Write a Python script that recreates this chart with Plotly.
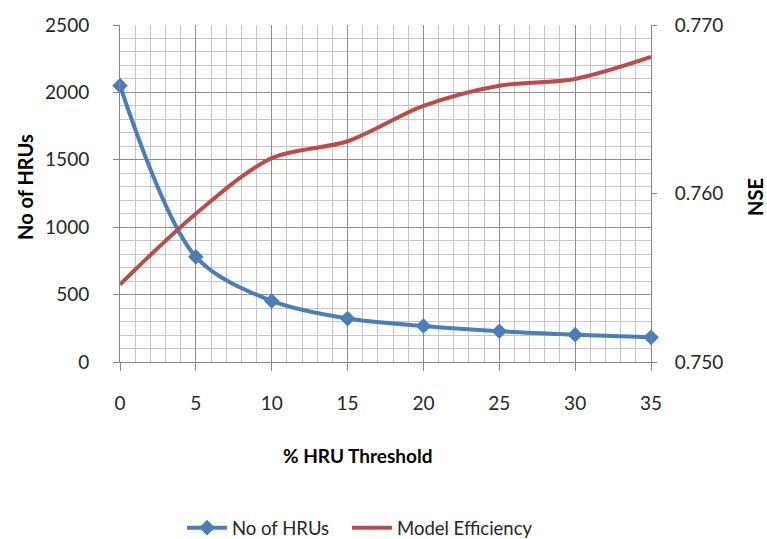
import plotly.graph_objects as go

# HRU threshold (%) tested
threshold = [0, 5, 10, 15, 20, 25, 30, 35]
# Number of HRUs produced at each threshold
hru_count = [2050, 780, 453, 322, 267, 228, 203, 183]
# Nash-Sutcliffe efficiency of the model at each threshold
nse = [0.7546, 0.7588, 0.7621, 0.7631, 0.7652, 0.7664, 0.7668, 0.7681]

left_ticks = [0, 500, 1000, 1500, 2000, 2500]
right_ticks = [0.750, 0.760, 0.770]

BLUE = "#4A7EBB"
RED = "#BE4B48"
MAJOR = "#8C8C8C"
MINOR = "#C4C4C4"
AXIS = "#868686"
TEXT = "#262626"
FONT = "Lato"

fig = go.Figure()

fig.add_trace(go.Scatter(
    x=threshold, y=hru_count, name="No of HRUs", legend="legend",
    mode="lines+markers",
    line=dict(color=BLUE, width=4, shape="spline", smoothing=0.9),
    marker=dict(symbol="diamond", size=12, color=BLUE),
    cliponaxis=False,
))

fig.add_trace(go.Scatter(
    x=threshold, y=nse, name="Model Efficiency", yaxis="y2", legend="legend2",
    mode="lines",
    line=dict(color=RED, width=4, shape="spline", smoothing=0.9),
))

legend_style = dict(orientation="h", xanchor="left", y=-0.493, yanchor="middle",
                    font=dict(size=18.5, color=TEXT), itemwidth=40,
                    bgcolor="rgba(0,0,0,0)")

fig.update_layout(
    width=767, height=539,
    margin=dict(l=120, r=116, t=25, b=177, autoexpand=False),
    plot_bgcolor="white", paper_bgcolor="white",
    font=dict(family=FONT, size=19, color=TEXT),
    showlegend=True,
    legend=dict(x=0.1168, **legend_style),
    legend2=dict(x=0.4275, **legend_style),
    xaxis=dict(
        range=[0, 35], tick0=0, dtick=5,
        showgrid=True, gridcolor=MAJOR, gridwidth=1,
        minor=dict(dtick=1, showgrid=True, gridcolor=MINOR, gridwidth=1),
        showline=True, linecolor=AXIS, linewidth=1,
        ticks="outside", ticklen=8, tickcolor=AXIS,
        zeroline=False, ticklabelstandoff=16, automargin=False,
    ),
    yaxis=dict(
        range=[0, 2500], tickvals=left_ticks,
        showgrid=True, gridcolor=MAJOR, gridwidth=1,
        minor=dict(dtick=100, showgrid=True, gridcolor=MINOR, gridwidth=1),
        showline=True, linecolor=AXIS, linewidth=1,
        ticks="outside", ticklen=6, tickcolor=AXIS,
        zeroline=False, ticklabelstandoff=20, automargin=False,
    ),
    yaxis2=dict(
        overlaying="y", side="right",
        range=[0.750, 0.770], tickvals=right_ticks, tickformat=".3f",
        showgrid=False, showline=True, linecolor=AXIS, linewidth=1,
        ticks="outside", ticklen=5, tickcolor=AXIS,
        zeroline=False, ticklabelstandoff=14, automargin=False,
    ),
    annotations=[
        dict(text="<b>No of HRUs</b>", xref="paper", yref="paper",
             x=-0.178, y=0.521, textangle=-90, showarrow=False,
             font=dict(size=20, color="black"), xanchor="center", yanchor="middle"),
        dict(text="<b>% HRU Threshold</b>", xref="paper", yref="paper",
             x=0.447, y=-0.276, showarrow=False,
             font=dict(size=19, color="black"), xanchor="center", yanchor="middle"),
        dict(text="<b>NSE</b>", xref="paper", yref="paper",
             x=1.196, y=0.49, textangle=-90, showarrow=False,
             font=dict(size=20, color="black"), xanchor="center", yanchor="middle"),
    ],
)

fig.write_html("out.html")
